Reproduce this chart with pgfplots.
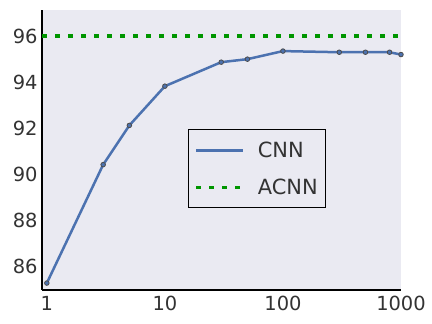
\documentclass[border=0pt]{standalone}
\usepackage{pgfplots}
\pgfplotsset{compat=1.18}
\usepackage{fontspec}
\setmainfont{DejaVu Sans}
\definecolor{bg}{HTML}{EAEAF2}
\definecolor{cnn}{HTML}{4C72B0}
\definecolor{acnn}{RGB}{0,150,0}
\begin{document}
\begin{tikzpicture}
\begin{axis}[
 scale only axis, width=359bp, height=280bp,
 xmode=log, xmin=0.91, xmax=1000, ymin=85, ymax=97.13,
 axis background/.style={fill=bg},
 axis x line*=bottom, axis y line*=left,
 axis line style={black, line width=1.5bp},
 xtick={1,10,100,1000}, xticklabels={1,10,100,1000},
 ytick={86,88,90,92,94,96},
 major tick length=0pt, minor tick length=0pt,
 tick label style={font=\fontsize{19.5}{20}\selectfont, text=black!80},
 /pgf/number format/assume math mode=true,
 xticklabel style={yshift=-3bp},
 yticklabel style={xshift=-1bp},
 clip=false,
 legend style={at={(axis description cs:0.407,0.575)}, anchor=north west,
   draw=black, line width=1bp, fill=bg, font=\fontsize{21}{22}\selectfont,
   text=black!80,
   inner xsep=6bp, inner ysep=10bp, row sep=16bp},
 legend cell align=left,
 legend image code/.code={\draw[#1, line width=3bp] (0bp,0bp) -- (47bp,0bp); \path (58bp,0bp);},
]
\addplot[color=cnn, line width=2.5bp, mark=*, mark size=2.3bp,
  mark options={fill=cnn, draw=black!70, line width=0.8bp}]
 coordinates {(1,85.3)(3,90.43)(5,92.13)(10,93.83)(30,94.87)(50,95.0)(100,95.35)(300,95.3)(500,95.3)(800,95.3)(1000,95.2)};
\addlegendentry{CNN\hspace{20bp}}
\addplot[color=acnn, line width=3.5bp, dash pattern=on 5bp off 8bp]
 coordinates {(0.91,96)(1000,96)};
\addlegendentry{ACNN\hspace{20bp}}
\end{axis}
\pgfresetboundingbox
\path ([shift={(-42bp,-34bp)}]current axis.south west) rectangle ([shift={(31bp,10bp)}]current axis.north east);
\end{tikzpicture}
\end{document}
